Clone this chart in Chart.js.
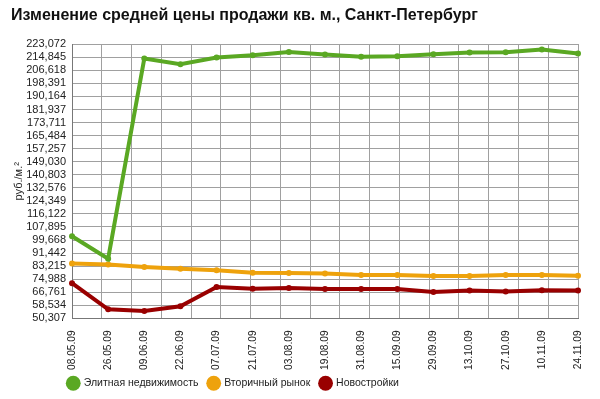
<!DOCTYPE html>
<html lang="ru">
<head>
<meta charset="UTF-8">
<title>Изменение средней цены продажи кв. м., Санкт-Петербург</title>
<script src="https://cdn.jsdelivr.net/npm/chart.js"></script>
<style>
  html, body { margin: 0; padding: 0; background: #fff; }
  #wrap { width: 600px; height: 399px; }
</style>
</head>
<body>
<div id="wrap"><canvas id="chart"></canvas></div>
<script>
// dates on the x axis
const dates = ['08.05.09', '26.05.09', '09.06.09', '22.06.09', '07.07.09', '21.07.09', '03.08.09',
  '19.08.09', '31.08.09', '15.09.09', '29.09.09', '13.10.09', '27.10.09', '10.11.09', '24.11.09'];

// руб./м.²
const elite = [102000, 87900, 214000, 210500, 214700, 216100, 218200, 216600, 215100, 215500, 216800, 217900, 218000, 219700, 217200];
const secondary = [84800, 84200, 82700, 81600, 80600, 79100, 78900, 78500, 77600, 77600, 77000, 77000, 77600, 77600, 77200];
const newBuild = [72500, 56000, 54900, 57900, 70000, 69000, 69400, 68800, 68800, 68800, 66900, 67800, 67300, 68000, 67800];

// y tick labels as printed
const yLabels = ['223,072', '214,845', '206,618', '198,391', '190,164', '181,937', '173,711', '165,484',
  '157,257', '149,030', '140,803', '132,576', '124,349', '116,122', '107,895', '99,668', '91,442',
  '83,215', '74,988', '66,761', '58,534', '50,307'];
const yValues = yLabels.map(s => Number(s.replace(',', '')));

const font = 'Liberation Sans, Arial, Helvetica, sans-serif';

function series(label, data, color) {
  return {
    label: label,
    data: data,
    borderColor: color,
    backgroundColor: color,
    borderWidth: 4,
    pointRadius: 3,
    pointHoverRadius: 3,
    pointBorderWidth: 0,
    tension: 0,
    xAxisID: 'x'
  };
}

// place the legend like in the original (a bit left, just under the dates)
const legendShift = {
  id: 'legendShift',
  afterLayout(chart) {
    const lg = chart.legend;
    lg.left -= 14;
    lg.right -= 14;
    lg.top = 368;
    lg.bottom = 399;
  }
};

new Chart(document.getElementById('chart'), {
  type: 'line',
  data: {
    labels: dates,
    datasets: [
      series('Элитная недвижимость', elite, '#5aa823'),
      series('Вторичный рынок', secondary, '#eea20c'),
      series('Новостройки', newBuild, '#990000')
    ]
  },
  options: {
    responsive: true,
    maintainAspectRatio: false,
    animation: false,
    layout: { padding: { left: 11, right: 22, top: 2, bottom: 0 } },
    plugins: {
      tooltip: { enabled: false },
      title: {
        display: true,
        text: 'Изменение средней цены продажи кв. м., Санкт-Петербург',
        align: 'start',
        color: '#111',
        font: { family: font, size: 16, weight: 'bold' },
        padding: { top: 4, bottom: 19 }
      },
      legend: {
        position: 'bottom',
        align: 'start',
        fullSize: false,
        maxHeight: 25,
        labels: {
          usePointStyle: true,
          pointStyle: 'circle',
          boxWidth: 12,
          boxHeight: 12,
          padding: 10,
          color: '#222',
          font: { family: font, size: 10.5 }
        }
      }
    },
    scales: {
      x: {
        type: 'category',
        offset: false,
        grid: { display: false },
        border: { color: '#777' },
        ticks: {
          minRotation: 90,
          maxRotation: 90,
          autoSkip: false,
          padding: 4,
          color: '#222',
          font: { family: font, size: 10.2 }
        }
      },
      xg: {
        type: 'linear',
        position: 'top',
        min: 0,
        max: 17,
        ticks: { display: false, stepSize: 1 },
        grid: { color: '#a0a0a0', drawTicks: false },
        border: { display: false }
      },
      y: {
        min: yValues[yValues.length - 1],
        max: yValues[0],
        afterBuildTicks: axis => { axis.ticks = yValues.slice().reverse().map(v => ({ value: v })); },
        afterFit: axis => { axis.width = 61; },
        grid: { color: '#a0a0a0', drawTicks: false },
        border: { color: '#777' },
        ticks: {
          autoSkip: false,
          padding: 6,
          color: '#222',
          font: { family: font, size: 11 },
          callback: v => yLabels[yValues.indexOf(v)]
        },
        title: {
          display: true,
          text: 'руб./м.²',
          color: '#222',
          font: { family: font, size: 11 },
          padding: { top: 1, bottom: 2 }
        }
      }
    }
  },
  plugins: [legendShift]
});
</script>
</body>
</html>
